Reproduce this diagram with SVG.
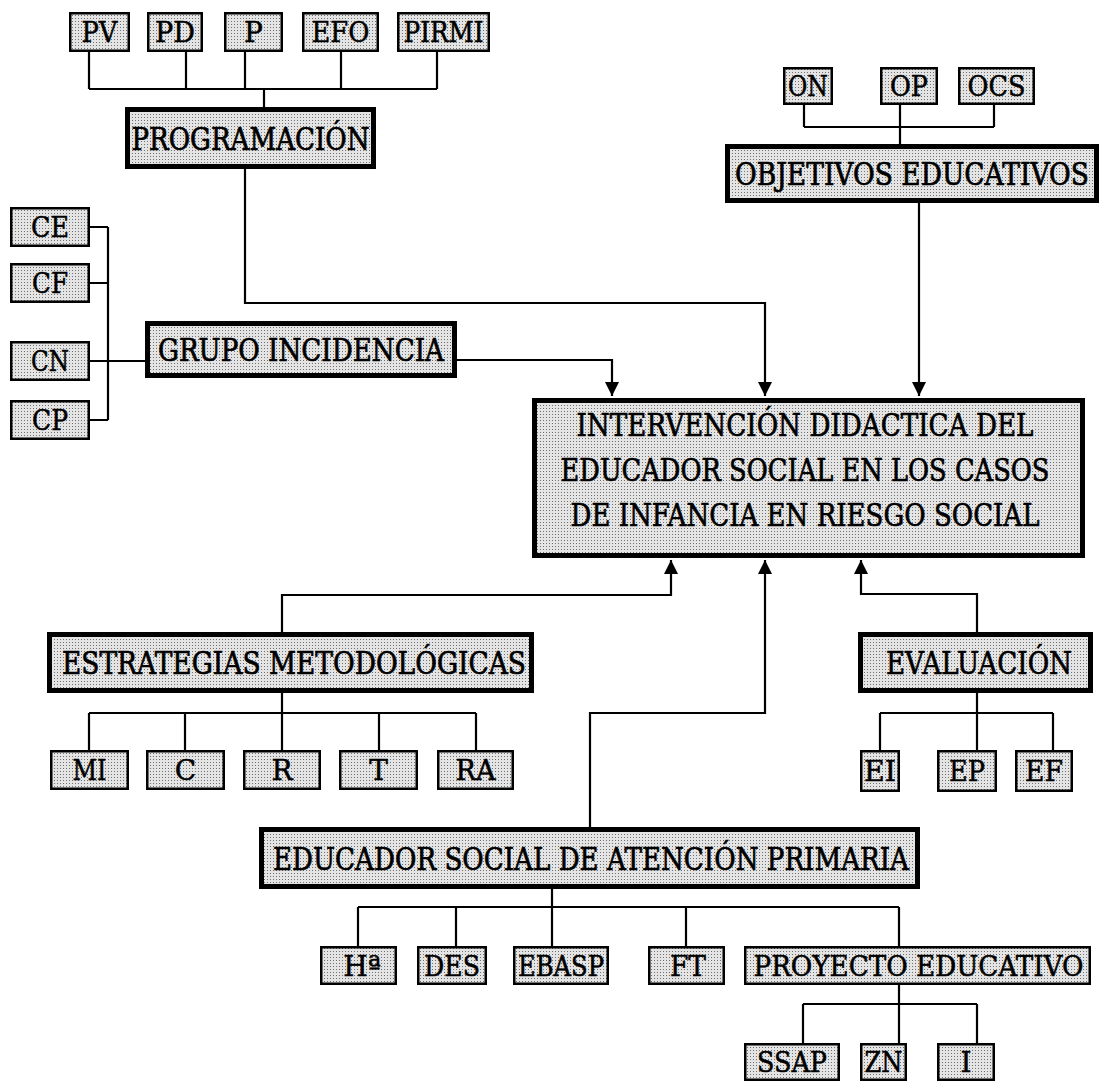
<svg xmlns="http://www.w3.org/2000/svg" width="1104" height="1082" viewBox="0 0 1104 1082">
<defs>
<pattern id="dots" width="3" height="3" patternUnits="userSpaceOnUse"><rect width="3" height="3" fill="#e4e4e4"/><rect width="1" height="1" fill="#707070"/></pattern>
<marker id="arr" viewBox="0 0 14 14" refX="14" refY="7" markerWidth="14" markerHeight="14" markerUnits="userSpaceOnUse" orient="auto"><path d="M0,0 L14,7 L0,14 Z" fill="#000"/></marker>
<style>
.big{fill:url(#dots);stroke:#000;stroke-width:5}
.sm{fill:url(#dots);stroke:#000;stroke-width:2.5}
.t{font-family:"DejaVu Serif","Liberation Serif",serif;font-size:31px;text-anchor:middle;fill:#000;stroke:#000;stroke-width:0.6}
.s{font-family:"DejaVu Serif","Liberation Serif",serif;font-size:28px;text-anchor:middle;fill:#000;stroke:#000;stroke-width:0.5}
.c{fill:none;stroke:#000;stroke-width:2.2}
</style>
</defs>
<rect width="1104" height="1082" fill="#fff"/>
<g id="connectors">
<path class="c" d="M89,52V89M186,52V89M245,52V89M341,52V89M437,52V89M89,89H437M264,89V107"/>
<path class="c" d="M245,169V303H765V396" marker-end="url(#arr)"/>
<path class="c" d="M804,105V127M900,105V144M994,105V127M804,127H994"/>
<path class="c" d="M919,203V396" marker-end="url(#arr)"/>
<path class="c" d="M90,227H108M90,283H108M90,420H108M108,227V420M90,361H145"/>
<path class="c" d="M457,360H612V396" marker-end="url(#arr)"/>
<path class="c" d="M282,632V595H671V560" marker-end="url(#arr)"/>
<path class="c" d="M282,693V713M89,713H476M89,713V750M185,713V750M282,713V750M379,713V750M476,713V750"/>
<path class="c" d="M977,632V594H861V560" marker-end="url(#arr)"/>
<path class="c" d="M977,693V713M880,713H1053M880,713V750M977,713V750M1053,713V750"/>
<path class="c" d="M590,827V713H765V560" marker-end="url(#arr)"/>
<path class="c" d="M552,889V907M358,907H899M358,907V946M456,907V946M552,907V946M686,907V946M899,907V946"/>
<path class="c" d="M899,985V1004M803,1004H977M803,1004V1043M899,1004V1043M977,1004V1043"/>
</g>
<g id="n-pv"><rect class="sm" x="70.25" y="13.25" width="58.5" height="37.5"/><text class="s" x="99.5" y="42" textLength="36" lengthAdjust="spacingAndGlyphs">PV</text></g>
<g id="n-pd"><rect class="sm" x="148.25" y="13.25" width="53.5" height="37.5"/><text class="s" x="175" y="42" textLength="40" lengthAdjust="spacingAndGlyphs">PD</text></g>
<g id="n-p"><rect class="sm" x="225.25" y="13.25" width="56.5" height="37.5"/><text class="s" x="253.5" y="42">P</text></g>
<g id="n-efo"><rect class="sm" x="303.25" y="13.25" width="74.5" height="37.5"/><text class="s" x="340.5" y="42" textLength="58" lengthAdjust="spacingAndGlyphs">EFO</text></g>
<g id="n-pirmi"><rect class="sm" x="398.25" y="13.25" width="90.5" height="37.5"/><text class="s" transform="translate(443.5,42) scale(1,1.12)" style="font-size:25px" textLength="80" lengthAdjust="spacingAndGlyphs">PIRMI</text></g>
<g id="n-programacion"><rect class="big" x="127.5" y="109.5" width="246" height="57"/><text class="t" transform="translate(250.5,149.5) scale(1,1.1923)" style="font-size:26px" textLength="238" lengthAdjust="spacingAndGlyphs">PROGRAMACIÓN</text></g>
<g id="n-on"><rect class="sm" x="784.25" y="68.25" width="47.5" height="35.5"/><text class="s" x="808" y="96" textLength="40" lengthAdjust="spacingAndGlyphs">ON</text></g>
<g id="n-op"><rect class="sm" x="881.25" y="68.25" width="55.5" height="35.5"/><text class="s" x="909" y="96" textLength="38" lengthAdjust="spacingAndGlyphs">OP</text></g>
<g id="n-ocs"><rect class="sm" x="959.25" y="68.25" width="74.5" height="35.5"/><text class="s" x="996.5" y="96" textLength="58" lengthAdjust="spacingAndGlyphs">OCS</text></g>
<g id="n-objetivos"><rect class="big" x="727.5" y="146.5" width="369" height="54"/><text class="t" transform="translate(912,185) scale(1,1.1923)" style="font-size:26px" textLength="354" lengthAdjust="spacingAndGlyphs">OBJETIVOS EDUCATIVOS</text></g>
<g id="n-ce"><rect class="sm" x="11.25" y="208.25" width="77.5" height="37.5"/><text class="s" x="50" y="237" textLength="38" lengthAdjust="spacingAndGlyphs">CE</text></g>
<g id="n-cf"><rect class="sm" x="11.25" y="264.25" width="77.5" height="37.5"/><text class="s" x="50" y="293" textLength="36" lengthAdjust="spacingAndGlyphs">CF</text></g>
<g id="n-cn"><rect class="sm" x="11.25" y="342.25" width="77.5" height="37.5"/><text class="s" x="50" y="371" textLength="38" lengthAdjust="spacingAndGlyphs">CN</text></g>
<g id="n-cp"><rect class="sm" x="11.25" y="401.25" width="77.5" height="37.5"/><text class="s" x="50" y="430" textLength="36" lengthAdjust="spacingAndGlyphs">CP</text></g>
<g id="n-grupo"><rect class="big" x="147.5" y="323.5" width="307" height="52"/><text class="t" transform="translate(301,361) scale(1,1.1481)" style="font-size:27px" textLength="286" lengthAdjust="spacingAndGlyphs">GRUPO INCIDENCIA</text></g>
<g id="n-intervencion"><rect class="big" x="534.5" y="400.5" width="548" height="155"/>
<text class="t" transform="translate(805,436) scale(1,1.1071)" style="font-size:28px" textLength="457" lengthAdjust="spacingAndGlyphs">INTERVENCIÓN DIDACTICA DEL</text>
<text class="t" transform="translate(805,481) scale(1,1.1071)" style="font-size:28px" textLength="489" lengthAdjust="spacingAndGlyphs">EDUCADOR SOCIAL EN LOS CASOS</text>
<text class="t" transform="translate(805,526) scale(1,1.1071)" style="font-size:28px" textLength="469" lengthAdjust="spacingAndGlyphs">DE INFANCIA EN RIESGO SOCIAL</text></g>
<g id="n-estrategias"><rect class="big" x="49.5" y="634.5" width="482" height="56"/><text class="t" transform="translate(294,674) scale(1,1.1923)" style="font-size:26px" textLength="464" lengthAdjust="spacingAndGlyphs">ESTRATEGIAS METODOLÓGICAS</text></g>
<g id="n-mi"><rect class="sm" x="51.25" y="751.25" width="76.5" height="37.5"/><text class="s" x="89.5" y="780" textLength="34" lengthAdjust="spacingAndGlyphs">MI</text></g>
<g id="n-c"><rect class="sm" x="147.25" y="751.25" width="76.5" height="37.5"/><text class="s" x="185.5" y="780">C</text></g>
<g id="n-r"><rect class="sm" x="244.25" y="751.25" width="75.5" height="37.5"/><text class="s" x="282" y="780">R</text></g>
<g id="n-t"><rect class="sm" x="340.25" y="751.25" width="76.5" height="37.5"/><text class="s" x="378.5" y="780">T</text></g>
<g id="n-ra"><rect class="sm" x="438.25" y="751.25" width="74.5" height="37.5"/><text class="s" x="475.5" y="780" textLength="40" lengthAdjust="spacingAndGlyphs">RA</text></g>
<g id="n-evaluacion"><rect class="big" x="860.5" y="634.5" width="230" height="56"/><text class="t" transform="translate(979,674) scale(1,1.069)" style="font-size:29px" textLength="186" lengthAdjust="spacingAndGlyphs">EVALUACIÓN</text></g>
<g id="n-ei"><rect class="sm" x="861.25" y="751.25" width="37.5" height="39.5"/><text class="s" x="880" y="781" textLength="32" lengthAdjust="spacingAndGlyphs">EI</text></g>
<g id="n-ep"><rect class="sm" x="938.25" y="751.25" width="57.5" height="39.5"/><text class="s" x="967" y="781" textLength="36" lengthAdjust="spacingAndGlyphs">EP</text></g>
<g id="n-ef"><rect class="sm" x="1016.25" y="751.25" width="55.5" height="39.5"/><text class="s" x="1044" y="781" textLength="38" lengthAdjust="spacingAndGlyphs">EF</text></g>
<g id="n-educador"><rect class="big" x="261.5" y="829.5" width="656" height="57"/><text class="t" transform="translate(591,869.5) scale(1,1.1923)" style="font-size:26px" textLength="636" lengthAdjust="spacingAndGlyphs">EDUCADOR SOCIAL DE ATENCIÓN PRIMARIA</text></g>
<g id="n-ha"><rect class="sm" x="321.25" y="947.25" width="74.5" height="36.5"/><text class="s" x="362" y="975.5">Hª</text></g>
<g id="n-des"><rect class="sm" x="418.25" y="947.25" width="67.5" height="36.5"/><text class="s" x="452" y="975.5" textLength="56" lengthAdjust="spacingAndGlyphs">DES</text></g>
<g id="n-ebasp"><rect class="sm" x="514.25" y="947.25" width="93.5" height="36.5"/><text class="s" transform="translate(561,975.5) scale(1,1.12)" style="font-size:25px" textLength="86" lengthAdjust="spacingAndGlyphs">EBASP</text></g>
<g id="n-ft"><rect class="sm" x="649.25" y="947.25" width="74.5" height="36.5"/><text class="s" x="688" y="975.5" textLength="36" lengthAdjust="spacingAndGlyphs">FT</text></g>
<g id="n-proyecto"><rect class="sm" x="745.25" y="947.25" width="344.5" height="36.5"/><text class="s" transform="translate(918.5,975.5) scale(1,1.0769)" style="font-size:26px" textLength="330" lengthAdjust="spacingAndGlyphs">PROYECTO EDUCATIVO</text></g>
<g id="n-ssap"><rect class="sm" x="745.25" y="1044.25" width="93.5" height="35.5"/><text class="s" x="792" y="1072" textLength="70" lengthAdjust="spacingAndGlyphs">SSAP</text></g>
<g id="n-zn"><rect class="sm" x="861.25" y="1044.25" width="44.5" height="35.5"/><text class="s" transform="translate(883.5,1072) scale(1,1.0769)" style="font-size:26px" textLength="38" lengthAdjust="spacingAndGlyphs">ZN</text></g>
<g id="n-i"><rect class="sm" x="938.25" y="1044.25" width="55.5" height="35.5"/><text class="s" x="966" y="1072">I</text></g>
</svg>
